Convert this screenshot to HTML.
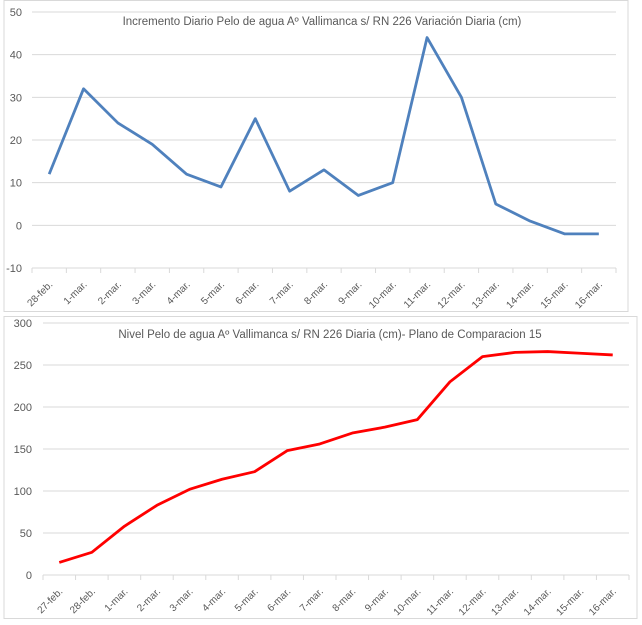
<!DOCTYPE html>
<html><head><meta charset="utf-8"><style>
body{margin:0;background:#fff;font-family:"Liberation Sans",sans-serif;}
svg text{font-family:"Liberation Sans",sans-serif;fill:#595959;}
</style></head><body>
<svg width="642" height="620" viewBox="0 0 642 620">
<g id="top"></g>
<g id="bot"></g>
</svg>
<script>
const topCats=["28-feb.","1-mar.","2-mar.","3-mar.","4-mar.","5-mar.","6-mar.","7-mar.","8-mar.","9-mar.","10-mar.","11-mar.","12-mar.","13-mar.","14-mar.","15-mar.","16-mar."];
const topVals=[12,32,24,19,12,9,25,8,13,7,10,44,30,5,1,-2,-2];
const topTicks=[-10,0,10,20,30,40,50];
const botCats=["27-feb.","28-feb.","1-mar.","2-mar.","3-mar.","4-mar.","5-mar.","6-mar.","7-mar.","8-mar.","9-mar.","10-mar.","11-mar.","12-mar.","13-mar.","14-mar.","15-mar.","16-mar."];
const botVals=[15,27,58,83,102,114,123,148,156,169,176,185,230,260,265,266,264,262];
const botTicks=[0,50,100,150,200,250,300];
const NS="http://www.w3.org/2000/svg";
function mk(p,t,a){const e=document.createElementNS(NS,t);for(const k in a)e.setAttribute(k,a[k]);p.appendChild(e);return e;}
function chart(g,o){
  const box=mk(g,'rect',{x:o.bx,y:o.by,width:o.bw,height:o.bh,fill:'#fff',stroke:'#d9d9d9'});
  
  
  const min=o.ticks[0],max=o.ticks[o.ticks.length-1];
  const y=v=>o.y1+(max-v)/(max-min)*(o.y0-o.y1);
  const step=(o.x1-o.x0)/o.cats.length;
  const x=i=>o.x0+step*(i+0.5);
  o.ticks.forEach(t=>{
    const l=mk(g,'line',{x1:o.x0,x2:o.x1,y1:y(t),y2:y(t),stroke:'#d9d9d9'});
    
    
    const tx=mk(g,'text',{x:o.lx,y:y(t)+4,'font-size':11,'text-anchor':'end'});
    tx.textContent=t;
    
    
  });
  for(let i=0;i<=o.cats.length;i++){
    const xx=o.x0+step*i;
    const tk=mk(g,'line',{x1:xx,x2:xx,y1:y(o.axisAt),y2:y(o.axisAt)+5,stroke:'#d9d9d9'});
    
    
  }
  o.cats.forEach((c,i)=>{
    const tx=mk(g,'text',{x:x(i)+4,y:o.ly,'font-size':10,'text-anchor':'end',transform:`rotate(-45 ${x(i)+4} ${o.ly})`});
    tx.textContent=c;
    
    
  });
  const pl=mk(g,'polyline',{points:o.vals.map((v,i)=>x(i)+','+y(v)).join(' '),fill:'none',stroke:o.color,'stroke-width':2.8,'stroke-linejoin':'round'});
  
  
  const ti=mk(g,'text',{x:o.tx,y:o.ty,'font-size':11.5,'text-anchor':'middle'});
  ti.textContent=o.title;
  
  
}
chart(document.getElementById('top'),{bx:4,by:0.5,bw:624,bh:311,x0:32,x1:616,y0:268,y1:12,ticks:topTicks,cats:topCats,vals:topVals,axisAt:-10,lx:22,ly:285,color:'#4f81bd',tx:322,ty:25,title:'Incremento Diario Pelo de agua Aº Vallimanca s/ RN 226 Variación Diaria (cm)'});
chart(document.getElementById('bot'),{bx:4,by:316.5,bw:633,bh:302,x0:43,x1:629,y0:575,y1:323,ticks:botTicks,cats:botCats,vals:botVals,axisAt:0,lx:32,ly:592,color:'#ff0000',tx:330,ty:338,title:'Nivel Pelo de agua Aº Vallimanca s/ RN 226 Diaria (cm)- Plano de Comparacion 15'});
</script>
</body></html>
